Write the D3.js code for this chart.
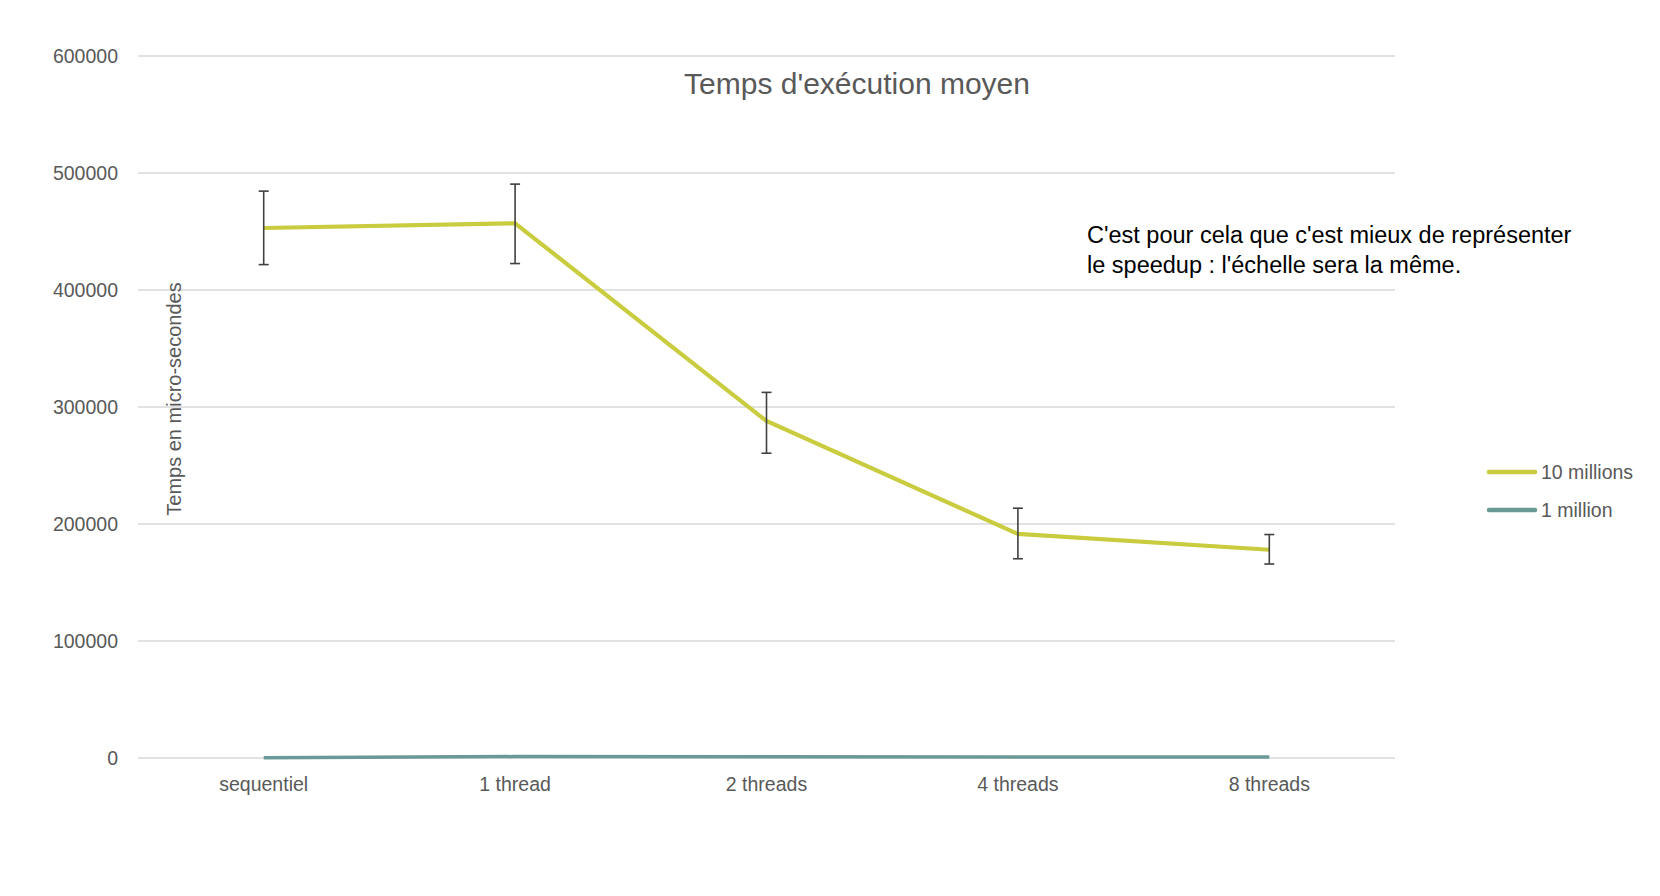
<!DOCTYPE html>
<html><head><meta charset="utf-8">
<script src="https://cdn.jsdelivr.net/npm/d3@7"></script>
<style>body{margin:0;background:#fff;font-family:"Liberation Sans",Arial,sans-serif}</style>
</head><body><svg id="c" width="1660" height="896"></svg>
<script>
var categories = ["sequentiel","1 thread","2 threads","4 threads","8 threads"]
var tenMillions = [453000,457000,288000,191500,178000]
var tenMillionsLow = [421700,422600,260500,170300,165800]
var tenMillionsHigh = [484500,490500,312500,213500,191000]
var oneMillion = [300,1200,1100,900,800]
var yTicks = [0,100000,200000,300000,400000,500000,600000]

var svg = d3.select("#c")
var x = d3.scalePoint().domain(categories).range([138,1395]).padding(0.5)
var y = d3.scaleLinear().domain([0,600000]).range([758,56])

// grid
svg.append("g").selectAll("line").data(yTicks).join("line")
  .attr("x1",138).attr("x2",1395).attr("y1",d=>y(d)).attr("y2",d=>y(d))
  .attr("stroke","#d9d9d9").attr("stroke-width",1.4)

svg.append("g").selectAll("text").data(yTicks).join("text")
  .attr("x",118).attr("y",d=>y(d)+7).attr("text-anchor","end")
  .attr("font-size",19.5).attr("fill","#595959").text(d=>d)

svg.append("g").selectAll("text").data(categories).join("text")
  .attr("x",d=>x(d)).attr("y",791).attr("text-anchor","middle")
  .attr("font-size",19.5).attr("fill","#595959").text(d=>d)

svg.append("text").attr("x",857).attr("y",94).attr("text-anchor","middle")
  .attr("font-size",30).attr("fill","#595959").text("Temps d'exécution moyen")

svg.append("text").attr("transform","translate(181,399) rotate(-90)").attr("text-anchor","middle")
  .attr("font-size",20).attr("fill","#595959").text("Temps en micro-secondes")

var line = d3.line().x((d,i)=>x(categories[i])).y(d=>y(d))
svg.append("path").datum(oneMillion).attr("d",line).attr("fill","none")
  .attr("stroke","#6a9a98").attr("stroke-width",3.5)
svg.append("path").datum(tenMillions).attr("d",line).attr("fill","none")
  .attr("stroke","#c9cc3f").attr("stroke-width",4.2)

// error bars
var eb = svg.append("g").attr("stroke","#404040").attr("stroke-width",1.6)
categories.forEach(function(c,i){
  var cx = x(c)
  eb.append("line").attr("x1",cx).attr("x2",cx).attr("y1",y(tenMillionsLow[i])).attr("y2",y(tenMillionsHigh[i]))
  eb.append("line").attr("x1",cx-5).attr("x2",cx+5).attr("y1",y(tenMillionsLow[i])).attr("y2",y(tenMillionsLow[i]))
  eb.append("line").attr("x1",cx-5).attr("x2",cx+5).attr("y1",y(tenMillionsHigh[i])).attr("y2",y(tenMillionsHigh[i]))
})

// legend
var legend = [["10 millions","#c9cc3f"],["1 million","#6a9a98"]]
legend.forEach(function(l,i){
  var ly = 472 + i*38
  svg.append("line").attr("x1",1489).attr("x2",1535).attr("y1",ly).attr("y2",ly)
    .attr("stroke",l[1]).attr("stroke-width",4.5).attr("stroke-linecap","round")
  svg.append("text").attr("x",1541).attr("y",ly+7).attr("font-size",19.5).attr("fill","#595959").text(l[0])
})

svg.append("text").attr("x",1087).attr("y",243).attr("font-size",23.5).attr("fill","#000").text("C'est pour cela que c'est mieux de représenter")
svg.append("text").attr("x",1087).attr("y",273).attr("font-size",23.5).attr("fill","#000").text("le speedup : l'échelle sera la même.")
</script></body></html>
